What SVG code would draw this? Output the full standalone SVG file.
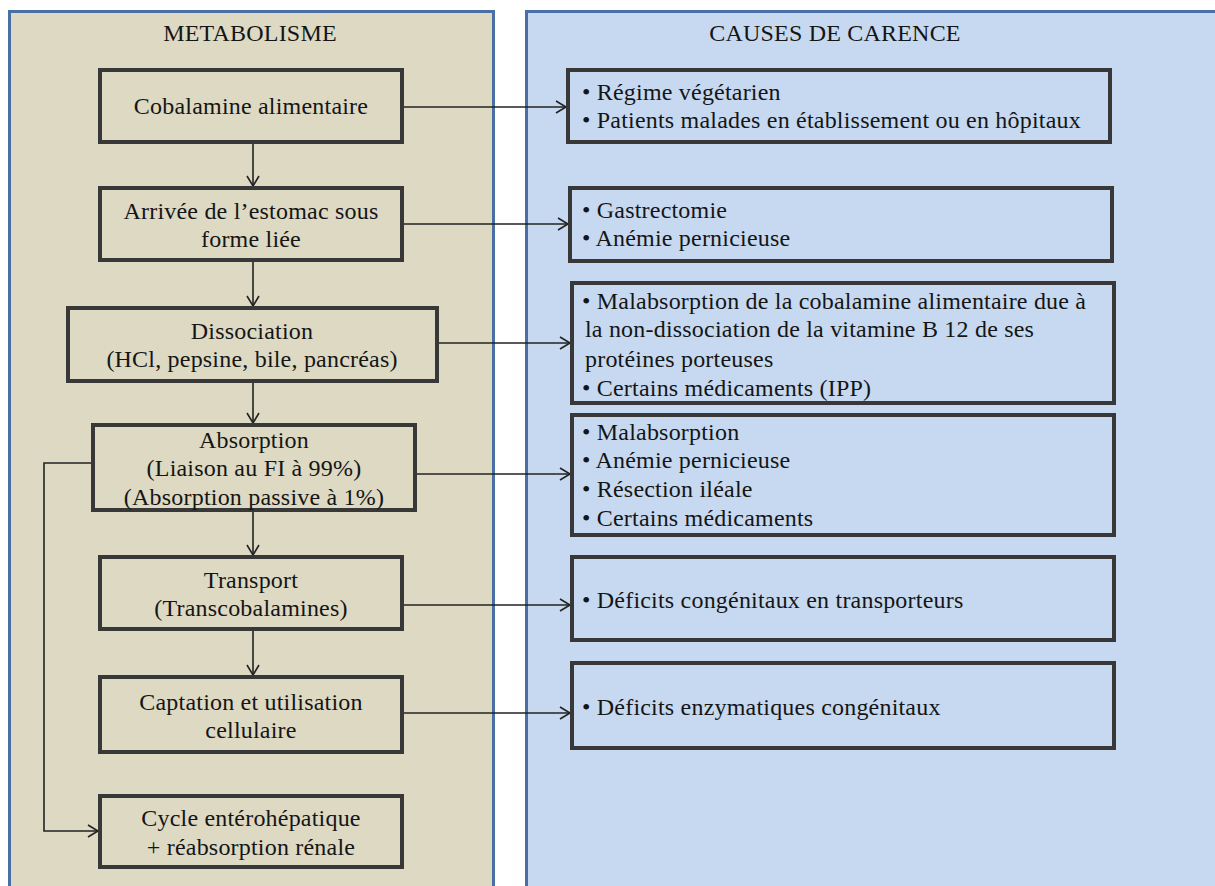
<svg xmlns="http://www.w3.org/2000/svg" width="1215" height="886" viewBox="0 0 1215 886">
<style>
text{font-family:'Liberation Serif','Times New Roman',serif;font-size:24px;letter-spacing:0.2px;fill:#151515}
.c{text-anchor:middle}
.lb{fill:#ddd9c3;stroke:#383838;stroke-width:4}
.rb{fill:#c6d9f0;stroke:#383838;stroke-width:4}
.ln{fill:none;stroke:#222;stroke-width:1.6}
</style>
<defs>
<marker id="ah" markerUnits="userSpaceOnUse" markerWidth="14" markerHeight="16" refX="11" refY="7" orient="auto">
<path d="M1,1 L11,7 L1,13" fill="none" stroke="#222" stroke-width="1.6"/>
</marker>
</defs>
<rect width="1215" height="886" fill="#ffffff"/>
<g id="panel-metabolisme">
<rect x="9.5" y="11.5" width="484" height="900" fill="#ddd9c3" stroke="#4a6fa5" stroke-width="3"/>
<text class="c" x="250" y="41">METABOLISME</text>
</g>
<g id="panel-causes">
<rect x="526.5" y="11.5" width="720" height="900" fill="#c6d9f0" stroke="#4a6fa5" stroke-width="3"/>
<text class="c" x="835" y="41">CAUSES DE CARENCE</text>
</g>
<g id="connectors">
<path class="ln" d="M253,142 V186" marker-end="url(#ah)"/>
<path class="ln" d="M253,260 V306" marker-end="url(#ah)"/>
<path class="ln" d="M253,381 V423" marker-end="url(#ah)"/>
<path class="ln" d="M253,510 V555" marker-end="url(#ah)"/>
<path class="ln" d="M253,629 V675" marker-end="url(#ah)"/>
<path class="ln" d="M93,463 H44 V831 H98" marker-end="url(#ah)"/>
<path class="ln" d="M402,107 H566" marker-end="url(#ah)"/>
<path class="ln" d="M402,224 H568" marker-end="url(#ah)"/>
<path class="ln" d="M437,343 H570" marker-end="url(#ah)"/>
<path class="ln" d="M415,474 H570" marker-end="url(#ah)"/>
<path class="ln" d="M402,605 H570" marker-end="url(#ah)"/>
<path class="ln" d="M402,713 H570" marker-end="url(#ah)"/>
</g>
<g id="n-cobalamine">
<rect class="lb" x="100" y="70" width="302" height="72"/>
<text class="c" x="251" y="114">Cobalamine alimentaire</text>
</g>
<g id="n-arrivee">
<rect class="lb" x="100" y="188" width="302" height="72"/>
<text class="c" x="251" y="219">Arrivée de l’estomac sous</text>
<text class="c" x="251" y="247">forme liée</text>
</g>
<g id="n-dissociation">
<rect class="lb" x="68" y="308" width="369" height="73"/>
<text class="c" x="252" y="339">Dissociation</text>
<text class="c" x="252" y="367">(HCl, pepsine, bile, pancréas)</text>
</g>
<g id="n-absorption">
<rect class="lb" x="93" y="425" width="322" height="85"/>
<text class="c" x="254" y="448">Absorption</text>
<text class="c" x="254" y="476">(Liaison au FI à 99%)</text>
<text class="c" x="254" y="505">(Absorption passive à 1%)</text>
</g>
<g id="n-transport">
<rect class="lb" x="100" y="557" width="302" height="72"/>
<text class="c" x="251" y="588">Transport</text>
<text class="c" x="251" y="616">(Transcobalamines)</text>
</g>
<g id="n-captation">
<rect class="lb" x="100" y="677" width="302" height="75"/>
<text class="c" x="251" y="710">Captation et utilisation</text>
<text class="c" x="251" y="738">cellulaire</text>
</g>
<g id="n-cycle">
<rect class="lb" x="100" y="796" width="302" height="71"/>
<text class="c" x="251" y="826">Cycle entérohépatique</text>
<text class="c" x="251" y="855">+ réabsorption rénale</text>
</g>
<g id="r-regime">
<rect class="rb" x="568" y="70" width="542" height="72"/>
<text x="582" y="100">• Régime végétarien</text>
<text x="582" y="128">• Patients malades en établissement ou en hôpitaux</text>
</g>
<g id="r-gastrectomie">
<rect class="rb" x="570" y="188" width="542" height="73"/>
<text x="582" y="218">• Gastrectomie</text>
<text x="582" y="246">• Anémie pernicieuse</text>
</g>
<g id="r-malabsorption-cobalamine">
<rect class="rb" x="572" y="283" width="542" height="120"/>
<text x="582" y="309">• Malabsorption de la cobalamine alimentaire due à</text>
<text x="585" y="337">la non-dissociation de la vitamine B 12 de ses</text>
<text x="585" y="367">protéines porteuses</text>
<text x="582" y="396">• Certains médicaments (IPP)</text>
</g>
<g id="r-malabsorption">
<rect class="rb" x="572" y="415" width="542" height="120"/>
<text x="582" y="440">• Malabsorption</text>
<text x="582" y="468">• Anémie pernicieuse</text>
<text x="582" y="497">• Résection iléale</text>
<text x="582" y="526">• Certains médicaments</text>
</g>
<g id="r-transporteurs">
<rect class="rb" x="572" y="557" width="542" height="83"/>
<text x="582" y="608">• Déficits congénitaux en transporteurs</text>
</g>
<g id="r-enzymatiques">
<rect class="rb" x="572" y="663" width="542" height="85"/>
<text x="582" y="715">• Déficits enzymatiques congénitaux</text>
</g>
</svg>
